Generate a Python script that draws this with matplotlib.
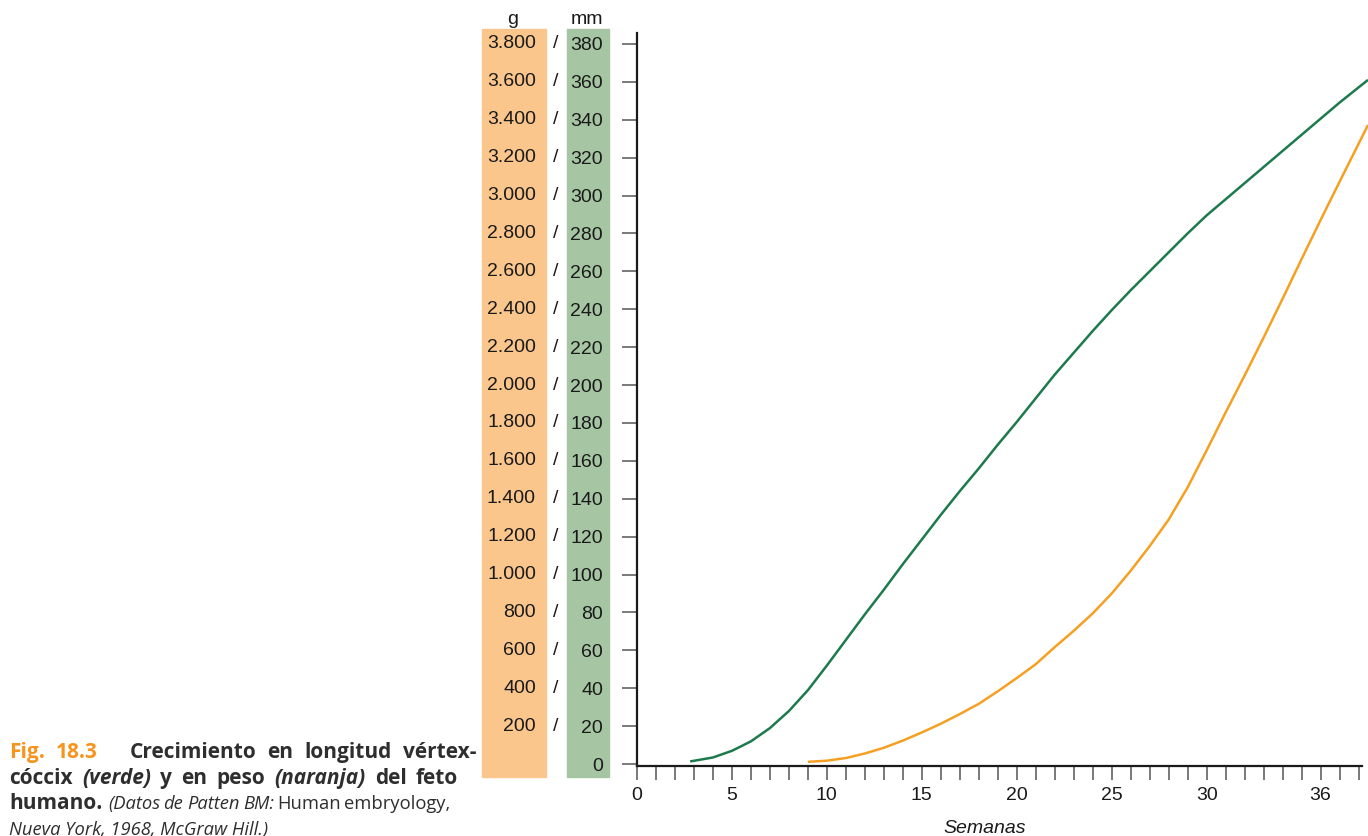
import matplotlib
matplotlib.use("Agg")
import matplotlib.pyplot as plt
from matplotlib.patches import Rectangle
from matplotlib.transforms import IdentityTransform, blended_transform_factory

plt.rcParams['font.family'] = ['Liberation Sans', 'DejaVu Sans']

# ------------------------------------------------------------------------------
# Data (weeks vs. crown-rump length / weight)
semanas_longitud = [2.8, 4, 5, 6, 7, 8, 9, 10, 11, 12, 13, 14, 15, 16, 17, 18,
                    19, 20, 21, 22, 23, 24, 25, 26, 27, 28, 29, 30, 31, 32, 33,
                    34, 35, 36, 37, 38, 38.5]
longitud_mm = [1.4, 3.5, 7, 12, 19, 28, 39, 52, 65.5, 79, 92, 105.5, 118.5,
               131.5, 144, 156, 168.5, 180.5, 193, 205.5, 217, 228.5, 239.5,
               250, 260, 270, 280, 289.5, 298, 306.5, 315, 323.5, 332, 340.5,
               349, 357, 361]

semanas_peso = [9, 10, 11, 12, 13, 14, 15, 16, 17, 18, 19, 20, 21, 22, 23, 24,
                25, 26, 27, 28, 29, 30, 31, 32, 33, 34, 35, 36, 37, 38, 38.5]
peso_g = [12, 18, 32, 56, 86, 124, 167, 213, 264, 318, 384, 454, 527, 617,
          703, 795, 900, 1020, 1150, 1290, 1460, 1655, 1855, 2050, 2250, 2455,
          2664, 2870, 3072, 3272, 3372]

ticks_mm = list(range(0, 400, 20))
labels_mm = [str(v) for v in ticks_mm]
labels_g = ['', '200', '400', '600', '800', '1.000', '1.200', '1.400', '1.600',
            '1.800', '2.000', '2.200', '2.400', '2.600', '2.800', '3.000',
            '3.200', '3.400', '3.600', '3.800']

semanas_ticks = list(range(0, 39))
semanas_labels = [0, 5, 10, 15, 20, 25, 30, 36]

# ------------------------------------------------------------------------------
W, H = 1368, 836
fig = plt.figure(figsize=(W / 100, H / 100), dpi=100)
fig.patch.set_facecolor('white')

col_green = '#1d7a4c'
col_orange = '#f5a023'
fill_orange = '#fbc68c'
fill_green = '#a6c5a3'
font_size = 14

# colored label columns (pixel coords, top-left origin)
for x0, x1, c in [(482, 546, fill_orange), (567, 609, fill_green)]:
    fig.patches.append(Rectangle((x0, H - 777), x1 - x0, 777 - 29,
                                 transform=IdentityTransform(), color=c,
                                 zorder=-5))

# place axes so that 0 mm sits at y=764 px and 380 mm at y=44 px
y_bot = (H - 766) / H
y_top = (H - 32.5) / H
ax = fig.add_axes([637 / W, y_bot, (W - 637) / W, y_top - y_bot])
ax.set_xlim(0, 38.5)
ax.set_ylim(-1, 386)
ax.patch.set_alpha(0)

ax.plot(semanas_longitud, longitud_mm, color=col_green, lw=1.8,
        solid_capstyle='butt')
ax.plot(semanas_peso, [g / 10 for g in peso_g], color=col_orange, lw=1.8,
        solid_capstyle='butt')

for s in ['top', 'right']:
    ax.spines[s].set_visible(False)
for s in ['left', 'bottom']:
    ax.spines[s].set_color('#1a1a1a')
    ax.spines[s].set_linewidth(1.6)
ax.spines['bottom'].set_bounds(0, 38.2)

ax.set_yticks(ticks_mm)
ax.set_yticklabels(labels_mm, fontsize=font_size, color='#1a1a1a')
ax.set_xticks(semanas_ticks)
ax.set_xticklabels([str(v) if v in semanas_labels else '' for v in semanas_ticks],
                   fontsize=font_size, color='#1a1a1a')
ax.tick_params(axis='y', length=11, width=1.1, color='#555555', pad=13.5)
ax.tick_params(axis='x', length=10, width=1.1, color='#555555', pad=5)

# gram labels and separators on the same rows
trans = blended_transform_factory(IdentityTransform(), ax.transData)
for v, g in zip(ticks_mm, labels_g):
    if g == '':
        continue
    ax.text(536, v, g, transform=trans, ha='right', va='center',
            fontsize=font_size, color='#1a1a1a', clip_on=False)
    ax.text(556, v, '/', transform=trans, ha='center', va='center',
            fontsize=font_size, color='#1a1a1a', clip_on=False)

fig.text(513, H - 24, 'g', transform=IdentityTransform(), ha='center',
         va='baseline', fontsize=font_size, color='#1a1a1a')
fig.text(587, H - 24, 'mm', transform=IdentityTransform(), ha='center',
         va='baseline', fontsize=font_size, color='#1a1a1a')
fig.text(985, H - 833, 'Semanas', transform=IdentityTransform(), ha='center',
         va='baseline', fontsize=font_size, style='italic', color='#1a1a1a')

# ------------------------------------------------------------------------------
# Caption, set in justified lines
cap_font = ['Open Sans', 'Liberation Sans', 'DejaVu Sans']
dark = '#2e2e2e'
fig_orange = '#f7941d'
B = dict(fontweight='bold', color=dark, fontsize=15)
BI = dict(fontweight='bold', style='italic', color=dark, fontsize=15)
I = dict(style='italic', color=dark, fontsize=13.2)
R = dict(color=dark, fontsize=13.2)
renderer = fig.canvas.get_renderer()


def justify(tokens, x0, x1, y, weights=None):
    objs = []
    for s, kw in tokens:
        t = fig.text(0, H - y, s, transform=IdentityTransform(), ha='left',
                     va='baseline', family=cap_font, **kw)
        objs.append(t)
    widths = [t.get_window_extent(renderer).width for t in objs]
    if weights is None:
        weights = [1] * (len(objs) - 1)
    gap = max((x1 - x0 - sum(widths)) / sum(weights), 3.5)
    x = x0
    for i, t in enumerate(objs):
        t.set_x(x)
        x += widths[i]
        if i < len(weights):
            x += gap * weights[i]


justify([('Fig.', dict(B, color=fig_orange)),
         ('18.3', dict(B, color=fig_orange)),
         ('Crecimiento', B), ('en', B), ('longitud', B), ('vértex-', B)],
        9, 476, 758, weights=[1, 3.0, 1, 1, 1])
justify([('cóccix', B), ('(verde)', BI), ('y', B), ('en', B), ('peso', B),
         ('(naranja)', BI), ('del', B), ('feto', B)],
        9, 458, 784)
justify([('humano.', B), ('(Datos', I), ('de', I), ('Patten', I), ('BM:', I),
         ('Human', R), ('embryology,', R)],
        9, 446, 809, weights=[1.6, 1, 1, 1, 1, 1])
fig.text(9, H - 835, 'Nueva York, 1968, McGraw Hill.)',
         transform=IdentityTransform(), ha='left', va='baseline',
         family=cap_font, **I)

fig.savefig('out.png', dpi=100)
